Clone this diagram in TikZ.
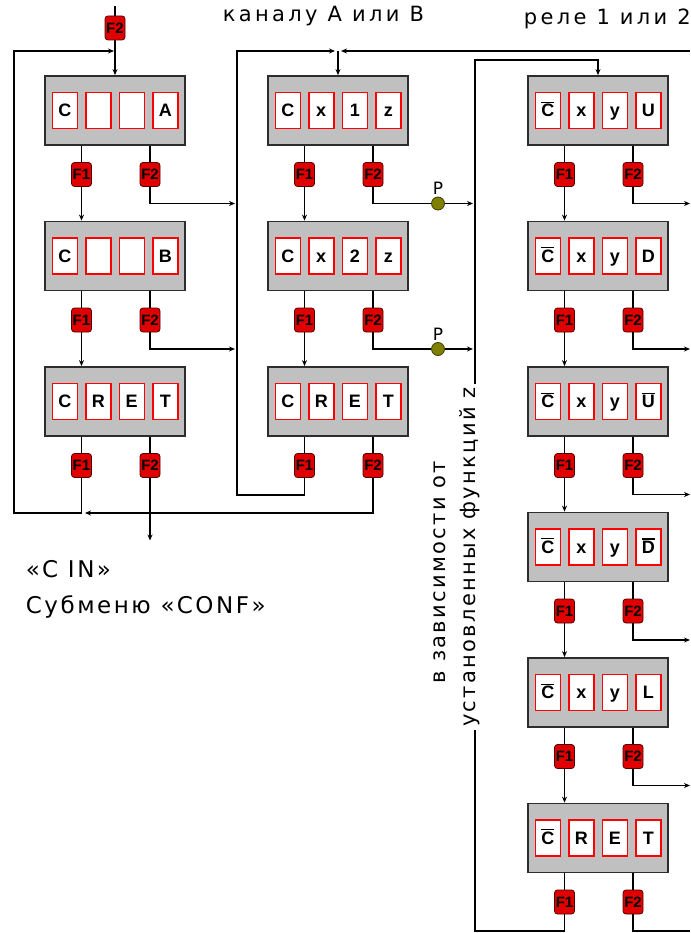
\documentclass[tikz,border=0pt]{standalone}
\usepackage{fontspec}
\setmainfont{Liberation Sans}
\newfontfamily\labfont{DejaVu Sans}[LetterSpace=11]
\newfontfamily\topfont{DejaVu Sans}[LetterSpace=16]
\usetikzlibrary{arrows.meta}

\newcommand{\ovl}[1]{\vbox{\hrule height 1.4pt\kern 1.2pt\hbox{#1}}}
% one display panel: name, position, four cells, and its F1/F2 keys
\newcommand{\panel}[6]{%
  \node[panel] (#1) at #2 {};
  \node[cell] (#1-1) at ([xshift=-50.25pt]#1.center) {#3};
  \node[cell] (#1-2) at ([xshift=-16.75pt]#1.center) {#4};
  \node[cell] (#1-3) at ([xshift=16.75pt]#1.center) {#5};
  \node[cell] (#1-4) at ([xshift=50.25pt]#1.center) {#6};
  \node[fkey] (f1#1) at ([shift={(-33.5,64)}]#1.center) {F1};
  \node[fkey] (f2#1) at ([shift={(35,64)}]#1.center) {F2};
  \draw (f1#1.north |- #1.south) -- (f1#1.north);
  \draw (f2#1.north |- #1.south) -- (f2#1.north);
}

\begin{document}
\begin{tikzpicture}[x=1pt,y=-1pt,line width=1.7pt,
    panel/.style={draw={rgb,255:red,45;green,45;blue,45},line width=1.8pt,
      fill={rgb,255:red,192;green,192;blue,192},minimum width=140pt,minimum height=69pt,inner sep=0pt},
    cell/.style={draw=red,line width=1.5pt,fill=white,minimum width=25pt,minimum height=36pt,
      inner sep=0pt,text height=12.5pt,text depth=0pt,font=\fontsize{18}{18}\selectfont\bfseries},
    fkey/.style={draw={rgb,255:red,80;green,0;blue,0},line width=0.8pt,fill={rgb,255:red,225;green,0;blue,0},
      rounded corners=3pt,minimum width=20pt,minimum height=24pt,inner sep=0pt,
      font=\fontsize{15}{15}\selectfont\bfseries},
    arr/.style={-{Stealth[length=6pt,width=5pt]}},
    pdot/.style={circle,draw={rgb,255:red,60;green,60;blue,0},line width=0.8pt,
      fill={rgb,255:red,128;green,128;blue,0},minimum size=13pt,inner sep=0pt},
    lab/.style={font=\labfont\fontsize{21}{21}\selectfont,inner sep=0pt,anchor=base west}]
  \path[use as bounding box,fill=white] (0,0) rectangle (690,933);

  \panel{a1}{(115,110.5)}{C}{}{}{A}
  \panel{a2}{(115,256)}{C}{}{}{B}
  \panel{a3}{(115,401.5)}{C}{R}{E}{T}
  \panel{b1}{(338,110.5)}{C}{x}{1}{z}
  \panel{b2}{(338,256)}{C}{x}{2}{z}
  \panel{b3}{(338,401.5)}{C}{R}{E}{T}
  \panel{c1}{(598,110.5)}{\ovl{C}}{x}{y}{U}
  \panel{c2}{(598,256)}{\ovl{C}}{x}{y}{D}
  \panel{c3}{(598,401.5)}{\ovl{C}}{x}{y}{\ovl{U}}
  \panel{c4}{(598,547)}{\ovl{C}}{x}{y}{\ovl{D}}
  \panel{c5}{(598,692.5)}{\ovl{C}}{x}{y}{L}
  \panel{c6}{(598,838)}{\ovl{C}}{R}{E}{T}

  % first column
  \coordinate (ain) at (115,6);
  \coordinate (ajoin) at (115,51);
  \coordinate (aleft) at (14,513);
  \coordinate (aback) at (85,513);
  \node[fkey] (f2a0) at (115,28) {F2};
  \draw (ain) -- (f2a0);
  \draw[arr] (f2a0) -- (a1.north);
  \foreach \i/\j in {1/2,2/3} \draw[arr] (f1a\i) -- (f1a\i |- a\j.north);
  \foreach \i in {1,2} \draw[arr] (f2a\i) -- ++(0,29) -- ++(85,0);
  \draw[arr] (f1a3) |- (aleft) |- ([xshift=-1pt]ajoin);
  \draw[arr] (f2a3) -- ++(0,75);

  % second column
  \coordinate (bjoin) at (338,51);
  \coordinate (bcorner) at (237,495);
  \coordinate (relay) at (690,51);
  \draw[arr] (f1b3) |- (bcorner) |- ([xshift=-3pt]bjoin);
  \draw[arr] (relay) -- ([xshift=3pt]bjoin);
  \draw[arr] (bjoin) -- (b1.north);
  \foreach \i/\j in {1/2,2/3} \draw[arr] (f1b\i) -- (f1b\i |- b\j.north);
  \node[pdot,label={[font=\labfont\fontsize{17}{17}\selectfont,inner sep=1pt]above:P}] (p1) at (438,203.5) {};
  \node[pdot,label={[font=\labfont\fontsize{17}{17}\selectfont,inner sep=1pt]above:P}] (p2) at (438,349) {};
  \draw (f2b1) |- (p1);
  \draw (f2b2) |- (p2);
  \draw[arr] (p1) -- ++(35,0);
  \draw[arr] (p2) -- ++(35,0);
  \draw[arr] (f2b3) |- (aback);

  % third column
  \coordinate (cbottom) at (475,931);
  \coordinate (cjoin) at (598,60);
  \draw[arr] (f1c6) |- (cbottom) |- (cjoin) -- (c1.north);
  \foreach \i/\j in {1/2,2/3,3/4,4/5,5/6} \draw[arr] (f1c\i) -- (f1c\i |- c\j.north);
  \foreach \i in {1,...,5} \draw[arr] (f2c\i) -- ++(0,29) -- ++(57,0);
  \draw (f2c6) -- ++(0,29) -- ++(57,0);

  % texts
  \node[lab,font=\topfont\fontsize{21}{21}\selectfont] (chan) at (222,22) {каналу А или В};
  \node[lab,font=\topfont\fontsize{21}{21}\selectfont] (rel) at (523,25) {реле 1 или 2};
  \node[lab,font=\labfont\fontsize{23}{23}\selectfont] (cin) at (25,577) {«C IN»};
  \node[lab,font=\labfont\fontsize{23}{23}\selectfont] (conf) at (25,613) {Субменю «CONF»};
  \node[lab,rotate=90,anchor=center] (dep1) at (440,572) {в зависимости от};
  \node[lab,rotate=90,anchor=center,fill=white,inner sep=3pt] (dep2) at (470,557) {установленных функций z};
\end{tikzpicture}
\end{document}
